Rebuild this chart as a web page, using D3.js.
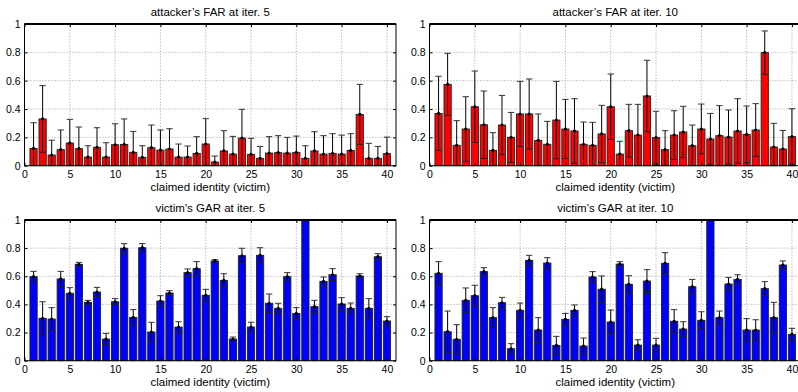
<!DOCTYPE html>
<html>
<head>
<meta charset="utf-8">
<script src="https://cdn.jsdelivr.net/npm/d3@7"></script>
<style>
  html, body { margin: 0; padding: 0; background: #fff; }
  svg { display: block; font-family: "Liberation Sans", Arial, Helvetica, sans-serif; }
</style>
</head>
<body>
<svg id="chart" width="798" height="392"></svg>
<script>
// claimed identities (victims)
const ids = d3.range(1, 41);
const xTicks = [0, 5, 10, 15, 20, 25, 30, 35, 40];
const yTicks = [0, 0.2, 0.4, 0.6, 0.8, 1];

// attacker's FAR, iteration 5
const far5Mean = [0.122, 0.33, 0.075, 0.113, 0.16, 0.12, 0.061, 0.13, 0.061, 0.148, 0.15, 0.094, 0.059, 0.127, 0.11, 0.118, 0.061, 0.061, 0.087, 0.153,
  0.026, 0.104, 0.082, 0.195, 0.08, 0.052, 0.089, 0.092, 0.089, 0.094, 0.052, 0.104, 0.082, 0.087, 0.082, 0.108, 0.362, 0.052, 0.052, 0.085];
const far5Std = [0.181, 0.235, 0.105, 0.139, 0.167, 0.153, 0.08, 0.138, 0.101, 0.148, 0.18, 0.148, 0.082, 0.16, 0.142, 0.143, 0.092, 0.078, 0.118, 0.179,
  0.042, 0.143, 0.125, 0.203, 0.113, 0.084, 0.116, 0.12, 0.111, 0.115, 0.089, 0.136, 0.13, 0.139, 0.134, 0.118, 0.212, 0.106, 0.084, 0.117];

// attacker's FAR, iteration 10
const far10Mean = [0.369, 0.574, 0.144, 0.259, 0.416, 0.289, 0.108, 0.287, 0.2, 0.365, 0.365, 0.179, 0.151, 0.322, 0.259, 0.245, 0.151, 0.144, 0.224, 0.416,
  0.082, 0.247, 0.216, 0.492, 0.198, 0.113, 0.216, 0.238, 0.141, 0.259, 0.188, 0.212, 0.202, 0.245, 0.221, 0.252, 0.798, 0.132, 0.118, 0.205];
const far10Std = [0.262, 0.219, 0.174, 0.228, 0.252, 0.238, 0.125, 0.209, 0.176, 0.23, 0.247, 0.186, 0.162, 0.273, 0.209, 0.228, 0.157, 0.162, 0.202, 0.231,
  0.09, 0.186, 0.217, 0.252, 0.186, 0.134, 0.172, 0.181, 0.146, 0.176, 0.181, 0.212, 0.191, 0.228, 0.2, 0.186, 0.153, 0.167, 0.131, 0.197];

// victim's GAR, iteration 5
const gar5Mean = [0.597, 0.301, 0.296, 0.581, 0.479, 0.685, 0.415, 0.488, 0.154, 0.419, 0.799, 0.308, 0.803, 0.204, 0.424, 0.481, 0.239, 0.626, 0.654, 0.465,
  0.709, 0.571, 0.154, 0.746, 0.239, 0.749, 0.408, 0.372, 0.597, 0.336, 1.0, 0.384, 0.564, 0.611, 0.403, 0.372, 0.602, 0.372, 0.739, 0.282];
const gar5Std = [0.038, 0.118, 0.081, 0.054, 0.04, 0.014, 0.014, 0.033, 0.04, 0.022, 0.033, 0.055, 0.029, 0.069, 0.038, 0.017, 0.038, 0.026, 0.05, 0.042,
  0.009, 0.047, 0.014, 0.053, 0.034, 0.054, 0.066, 0.036, 0.029, 0.041, 0.0, 0.045, 0.031, 0.043, 0.045, 0.038, 0.016, 0.069, 0.022, 0.031];

// victim's GAR, iteration 10
const gar10Mean = [0.621, 0.206, 0.152, 0.429, 0.462, 0.633, 0.306, 0.412, 0.085, 0.358, 0.713, 0.218, 0.694, 0.109, 0.294, 0.358, 0.104, 0.595, 0.508, 0.275,
  0.687, 0.543, 0.111, 0.566, 0.111, 0.692, 0.28, 0.225, 0.526, 0.287, 1.0, 0.306, 0.545, 0.578, 0.218, 0.218, 0.512, 0.306, 0.68, 0.187];
const gar10Std = [0.083, 0.147, 0.104, 0.088, 0.074, 0.028, 0.071, 0.038, 0.036, 0.052, 0.036, 0.088, 0.038, 0.064, 0.042, 0.038, 0.057, 0.038, 0.094, 0.085,
  0.017, 0.061, 0.038, 0.081, 0.048, 0.076, 0.083, 0.052, 0.052, 0.061, 0.0, 0.047, 0.047, 0.033, 0.081, 0.073, 0.05, 0.109, 0.029, 0.043];

const panels = [
  { title: "attacker\u2019s FAR at iter. 5", mean: far5Mean, std: far5Std, color: "#ff0000", left: 24.5, top: 24, bottom: 165.7 },
  { title: "attacker\u2019s FAR at iter. 10", mean: far10Mean, std: far10Std, color: "#ff0000", left: 429.5, top: 24, bottom: 165.7 },
  { title: "victim\u2019s GAR at iter. 5", mean: gar5Mean, std: gar5Std, color: "#0000ff", left: 24.5, top: 220, bottom: 360.7 },
  { title: "victim\u2019s GAR at iter. 10", mean: gar10Mean, std: gar10Std, color: "#0000ff", left: 429.5, top: 220, bottom: 360.7 }
];

const plotW = 371.5;
const svg = d3.select("#chart");

panels.forEach((p, i) => {
  const x = d3.scaleLinear().domain([0, 41]).range([p.left, p.left + plotW]);
  const y = d3.scaleLinear().domain([0, 1]).range([p.bottom, p.top]);
  const rows = ids.map((id, k) => ({ id, m: p.mean[k], s: p.std[k] }));
  const g = svg.append("g");

  const clipId = "clip" + i;
  svg.append("clipPath").attr("id", clipId)
    .append("rect")
    .attr("x", x(0)).attr("y", y(1))
    .attr("width", x(41) - x(0)).attr("height", y(0) - y(1));

  // grid (dotted)
  g.append("g").selectAll("line").data(xTicks.filter(t => t > 0)).join("line")
    .attr("x1", d => x(d)).attr("x2", d => x(d))
    .attr("y1", y(0)).attr("y2", y(1))
    .attr("stroke", "#888").attr("stroke-width", 0.8).attr("stroke-dasharray", "1,2");
  g.append("g").selectAll("line").data(yTicks.filter(t => t > 0 && t < 1)).join("line")
    .attr("x1", x(0)).attr("x2", x(41))
    .attr("y1", d => y(d)).attr("y2", d => y(d))
    .attr("stroke", "#888").attr("stroke-width", 0.8).attr("stroke-dasharray", "1,2");

  // bars
  const bw = x(0.8) - x(0);
  g.append("g").selectAll("rect").data(rows).join("rect")
    .attr("x", d => x(d.id) - bw / 2)
    .attr("y", d => y(d.m))
    .attr("width", bw)
    .attr("height", d => y(0) - y(d.m))
    .attr("fill", p.color)
    .attr("stroke", "#222").attr("stroke-width", 0.9);

  // error bars
  const cw = x(0.7) - x(0);
  const eb = g.append("g").attr("clip-path", `url(#${clipId})`);
  eb.selectAll("line.v").data(rows).join("line").attr("class", "v")
    .attr("x1", d => x(d.id)).attr("x2", d => x(d.id))
    .attr("y1", d => y(d.m - d.s)).attr("y2", d => y(d.m + d.s))
    .attr("stroke", "#000").attr("stroke-width", 1);
  eb.selectAll("line.up").data(rows).join("line").attr("class", "up")
    .attr("x1", d => x(d.id) - cw / 2).attr("x2", d => x(d.id) + cw / 2)
    .attr("y1", d => y(d.m + d.s)).attr("y2", d => y(d.m + d.s))
    .attr("stroke", "#333").attr("stroke-width", 1);
  eb.selectAll("line.lo").data(rows.filter(d => d.m - d.s > 0)).join("line").attr("class", "lo")
    .attr("x1", d => x(d.id) - cw / 2).attr("x2", d => x(d.id) + cw / 2)
    .attr("y1", d => y(d.m - d.s)).attr("y2", d => y(d.m - d.s))
    .attr("stroke", "#222").attr("stroke-width", 1);
  eb.selectAll("circle").data(rows).join("circle")
    .attr("cx", d => x(d.id)).attr("cy", d => y(d.m)).attr("r", 1.6)
    .attr("fill", "#000");

  // axes (ticks pointing inward)
  const xa = g.append("g").attr("transform", `translate(0,${y(0)})`)
    .call(d3.axisBottom(x).tickValues(xTicks).tickSize(-3).tickPadding(5).tickFormat(d3.format("d")));
  const ya = g.append("g").attr("transform", `translate(${x(0)},0)`)
    .call(d3.axisLeft(y).tickValues(yTicks).tickSize(-3).tickPadding(4)
      .tickFormat(d => (d === 0 || d === 1) ? String(d) : d3.format(".1f")(d)));
  g.append("g").attr("transform", `translate(0,${y(1)})`)
    .call(d3.axisTop(x).tickValues(xTicks).tickSize(-3).tickFormat(""));
  g.append("g").attr("transform", `translate(${x(41)},0)`)
    .call(d3.axisRight(y).tickValues(yTicks).tickSize(-3).tickFormat(""));
  g.selectAll(".domain").remove();
  g.selectAll(".tick line").attr("stroke", "#000");
  [xa, ya].forEach(a => a.selectAll("text")
    .attr("font-size", 10.5).attr("fill", "#000")
    .attr("font-family", "'Liberation Sans', Arial, sans-serif"));

  // box
  g.append("rect")
    .attr("x", x(0)).attr("y", y(1))
    .attr("width", x(41) - x(0)).attr("height", y(0) - y(1))
    .attr("fill", "none").attr("stroke", "#000").attr("stroke-width", 1);
  g.append("line")
    .attr("x1", x(0)).attr("x2", x(41)).attr("y1", y(1)).attr("y2", y(1))
    .attr("stroke", "#000").attr("stroke-width", 1.8);

  // labels
  const cx = (x(0) + x(41)) / 2;
  g.append("text").attr("x", cx).attr("y", p.top - 8)
    .attr("text-anchor", "middle").attr("font-size", 11.5).text(p.title);
  g.append("text").attr("x", cx).attr("y", p.bottom + 25.5)
    .attr("text-anchor", "middle").attr("font-size", 11.5).text("claimed identity (victim)");
});
</script>
</body>
</html>
